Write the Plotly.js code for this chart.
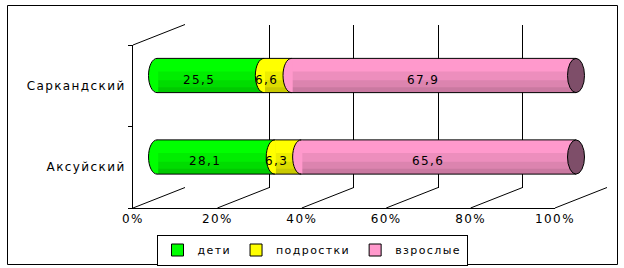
<!DOCTYPE html>
<html><head><meta charset="utf-8">
<script src="https://cdn.plot.ly/plotly-3.0.1.min.js"></script>
<style>
html,body{margin:0;padding:0;background:#fff}
svg text{letter-spacing:1.4px}
</style></head><body><div id="chart" style="width:624px;height:268px"></div>
<script>
// ---- data ----
const categories = ['Аксуйский', 'Саркандский'];
const seriesNames = ['дети', 'подростки', 'взрослые'];
const deti = [28.1, 25.5];
const podrostki = [6.3, 6.6];
const vzroslye = [65.6, 67.9];
const axisTicks = [0, 20, 40, 60, 80, 100];

// ---- styles / geometry ----
const seriesColors = ['#00FF00', '#FFFF00', '#FF99CC'];
const capColor = '#7E4E69';
const FONT = 'DejaVu Sans';
const FS = 12;
const W = 624, H = 268;
const px = x => x / W, py = y => 1 - y / H;
const FRONT = {x0: 133, x1: 555, yTop: 45, yBot: 208};
const BACK = {x0: 185, x1: 607, yTop: 24.5, yBot: 187.5};
const BAR = {x0: 157, x1: 576, yTop: 34.75, yBot: 197.75};
const PAD = 5;
const ppu = (BAR.x1 - BAR.x0) / 100;
const ppc = (BAR.yBot - BAR.yTop) / 2;
const HALF = 0.21;
const RX = 8.5 / ppu;

const series = [deti, podrostki, vzroslye];
const pos = categories.map((c, i) => i);
const totals = pos.map(i => series.reduce((s, arr) => s + arr[i], 0));
const starts = series.map((arr, k) => pos.map(i => series.slice(0, k).reduce((s, a) => s + a[i], 0)));
const fmt = v => v.toFixed(1).replace('.', ',');

const traces = [];
traces.push({type: 'scatter', x: axisTicks, y: axisTicks.map(() => 0.5), xaxis: 'x', yaxis: 'y',
  mode: 'markers', marker: {opacity: 0}, showlegend: false, hoverinfo: 'skip'});
traces.push({type: 'scatter', x: categories.map(() => 0), y: categories, xaxis: 'x2', yaxis: 'y2',
  mode: 'markers', marker: {opacity: 0}, showlegend: false, hoverinfo: 'skip'});

series.forEach((arr, k) => {
  traces.push({type: 'bar', orientation: 'h', name: seriesNames[k], x: arr, y: pos, base: starts[k],
    width: 2 * HALF, xaxis: 'x3', yaxis: 'y3',
    marker: {color: seriesColors[k], line: {color: '#000', width: 1}}, hoverinfo: 'skip'});
});
[{f: 0.62, a: 0.07}, {f: 0.36, a: 0.07}, {f: 0.16, a: 0.08}].forEach(b => {
  traces.push({type: 'bar', orientation: 'h', x: totals, y: pos, base: pos.map(() => 0),
    width: 2 * HALF * b.f, offset: -HALF, xaxis: 'x3', yaxis: 'y3', showlegend: false,
    marker: {color: 'rgba(0,0,0,' + b.a + ')', line: {width: 0}}, hoverinfo: 'skip'});
});

const shapes = [];
shapes.push({type: 'rect', xref: 'paper', yref: 'paper', x0: px(7.5), x1: px(617.5), y0: py(264.5), y1: py(5.5),
  line: {color: '#000', width: 1}, layer: 'below'});
const fx = v => FRONT.x0 + (FRONT.x1 - FRONT.x0) * v / 100;
const bx = v => BACK.x0 + (BACK.x1 - BACK.x0) * v / 100;
axisTicks.forEach(v => {
  shapes.push({type: 'line', xref: 'paper', yref: 'paper', x0: px(fx(v)), y0: py(FRONT.yBot), x1: px(bx(v)), y1: py(BACK.yBot),
    line: {color: '#000', width: 1}, layer: 'below'});
});
shapes.push({type: 'line', xref: 'paper', yref: 'paper', x0: px(FRONT.x0), y0: py(FRONT.yTop), x1: px(BACK.x0), y1: py(BACK.yTop),
  line: {color: '#000', width: 1}, layer: 'below'});

const K = 0.5523;
const e = 1.2 / ppu, d = 0.6 / ppc;
pos.forEach(r => {
  series.forEach((arr, k) => {
    const cx = starts[k][r], cy = r, ry = HALF;
    const arcTo = (yb) => `C ${cx - K * RX},${cy + ry} ${cx - RX},${cy + K * ry} ${cx - RX},${cy} C ${cx - RX},${cy - K * ry} ${cx - K * RX},${cy - ry} ${cx},${yb}`;
    shapes.push({type: 'path', xref: 'x3', yref: 'y3', layer: 'above',
      path: `M ${cx + e},${cy + ry - d} L ${cx},${cy + ry - d} ${arcTo(cy - ry + d)} L ${cx + e},${cy - ry + d} Z`,
      fillcolor: seriesColors[k], line: {width: 0}});
    shapes.push({type: 'path', xref: 'x3', yref: 'y3', layer: 'above',
      path: `M ${cx},${cy + ry} ${arcTo(cy - ry)}`, line: {color: '#000', width: 1}});
  });
  shapes.push({type: 'circle', xref: 'x3', yref: 'y3', layer: 'above',
    x0: totals[r] - RX, x1: totals[r] + RX, y0: r - HALF, y1: r + HALF,
    fillcolor: capColor, line: {color: '#000', width: 1}});
});

const annotations = [];
pos.forEach(r => series.forEach((arr, k) => {
  annotations.push({xref: 'x3', yref: 'y3', x: starts[k][r] + arr[r] / 2, y: r, text: fmt(arr[r]),
    showarrow: false, xshift: -11, yshift: -4, font: {family: FONT, size: FS, color: '#000'}});
}));

const layout = {
  width: W, height: H, margin: {l: 0, r: 0, t: 0, b: 0},
  paper_bgcolor: '#fff', plot_bgcolor: 'rgba(0,0,0,0)', barmode: 'overlay',
  font: {family: FONT, size: FS, color: '#000'},
  xaxis: {domain: [px(BACK.x0), px(BACK.x1)], range: [0, 100], tickmode: 'array', tickvals: axisTicks, showgrid: true,
    gridcolor: '#000', gridwidth: 1, zeroline: false, showticklabels: false, ticks: '', showline: false, anchor: 'y'},
  yaxis: {domain: [py(BACK.yBot), py(BACK.yTop)], range: [0, 1], showgrid: false, zeroline: false,
    showticklabels: false, ticks: '', showline: false, anchor: 'x'},
  xaxis2: {domain: [px(FRONT.x0), px(FRONT.x1)], range: [0, 100], tickmode: 'array', tickvals: axisTicks,
    ticktext: axisTicks.map(v => v + '%'), showgrid: false, zeroline: false, showline: true,
    linecolor: '#000', linewidth: 1, ticks: '', anchor: 'y2'},
  yaxis2: {domain: [py(FRONT.yBot), py(FRONT.yTop)], type: 'category', categoryorder: 'array',
    categoryarray: categories, range: [-0.5, 1.5], showgrid: false, zeroline: false, showline: true,
    linecolor: '#000', linewidth: 1, ticks: 'outside', ticklen: 4, tickcolor: '#000', tickson: 'boundaries',
    ticklabelstandoff: 4, anchor: 'x2'},
  xaxis3: {domain: [px(BAR.x0 - PAD * ppu), px(BAR.x1 + PAD * ppu)], range: [-PAD, 100 + PAD], visible: false, anchor: 'y3'},
  yaxis3: {domain: [py(BAR.yBot), py(BAR.yTop)], range: [-0.5, 1.5], visible: false, anchor: 'x3'},
  legend: {orientation: 'h', x: 0.5, xanchor: 'center', y: py(250), yanchor: 'middle',
    bordercolor: '#000', borderwidth: 1, bgcolor: '#fff', font: {size: 11}, itemwidth: 30, traceorder: 'normal'},
  shapes: shapes, annotations: annotations
};
Plotly.newPlot('chart', traces, layout, {displayModeBar: false, staticPlot: true});
</script></body></html>
